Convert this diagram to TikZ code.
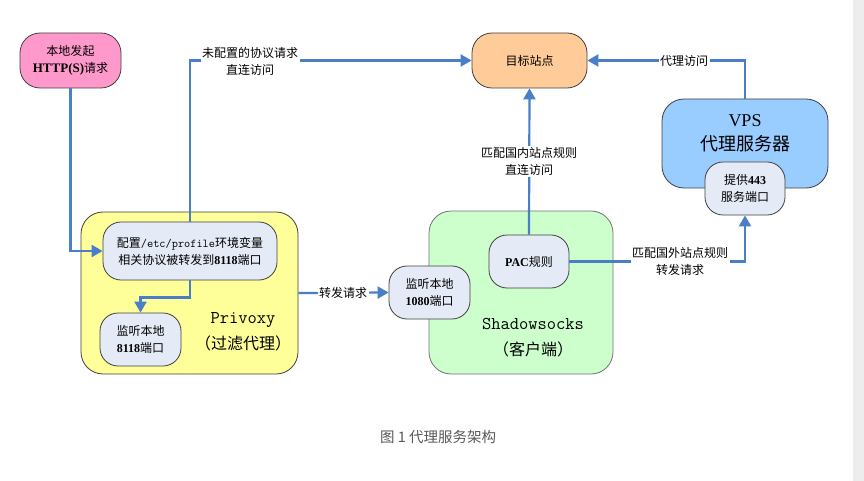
\documentclass[tikz,border=0pt]{standalone}
\usepackage{fontspec}
\setmainfont{Noto Sans CJK SC}
\newfontfamily\lser{Liberation Serif}
\usetikzlibrary{arrows.meta}
\newcommand\bnum[1]{{\lser\bfseries #1}}
\definecolor{arrblue}{HTML}{4A7EC6}
\definecolor{pinkf}{HTML}{FF99CC}
\definecolor{orangef}{HTML}{FFCC99}
\definecolor{yellowf}{HTML}{FFFF99}
\definecolor{greenf}{HTML}{CCFFCC}
\definecolor{bluef}{HTML}{99CCFF}
\definecolor{innerf}{HTML}{E5EBF6}
\definecolor{edgec}{HTML}{404040}
\begin{document}
\begin{tikzpicture}[x=1pt,y=-1pt,
  box/.style={draw=edgec, line width=0.8pt, align=center, inner sep=0pt,
    font=\fontsize{12}{17}\selectfont},
  inbox/.style={box, fill=innerf, rounded corners=18pt},
  arr/.style={draw=arrblue, line width=2.2pt, -{Triangle[length=11pt,width=12pt]}},
  lbl/.style={fill=white, align=center, inner sep=1.5pt, font=\fontsize{12}{17}\selectfont},
  big/.style={align=center, font=\fontsize{16}{26}\selectfont}]
\useasboundingbox (0,0) rectangle (864,481);
\fill[white] (0,0) rectangle (864,481);
\fill[black!7] (853,0) rectangle (864,481);

% containers
\node[box, fill=yellowf, rounded corners=22pt, minimum width=217pt, minimum height=162pt] (priv) at (189.5,293) {};
\node[box, fill=greenf, draw=black!55, rounded corners=22pt, minimum width=184pt, minimum height=163pt] (ss) at (521,292.5) {};
\node[box, fill=bluef, rounded corners=22pt, minimum width=166pt, minimum height=89pt] (vps) at (745,143.5) {};

% boxes
\node[box, fill=pinkf, rounded corners=20pt, minimum width=101pt, minimum height=55pt] (src) at (70.5,60.5) {本地发起\\{\fontsize{13}{17}\selectfont\bnum{HTTP(S)}}请求};
\node[box, fill=orangef, rounded corners=20pt, minimum width=115pt, minimum height=55pt] (tgt) at (529.5,60.5) {目标站点};
\node[inbox, minimum width=174pt, minimum height=58pt] (cfg) at (190,251) {配置{\ttfamily\fontsize{12}{17}\selectfont /etc/profile}环境变量\\相关协议被转发到\bnum{8118}端口};
\node[inbox, minimum width=81pt, minimum height=53pt] (l8118) at (140.5,339.5) {监听本地\\\bnum{8118}端口};
\node[inbox, minimum width=80pt, minimum height=53pt] (pac) at (529,261.5) {\bnum{PAC}规则};
\node[inbox, minimum width=81pt, minimum height=53pt] (l1080) at (429.5,292.5) {监听本地\\\bnum{1080}端口};
\node[inbox, minimum width=80pt, minimum height=53pt] (p443) at (745,188.5) {提供\bnum{443}\\服务端口};

% container titles
\node[big] (privt) at (243,332) {{\ttfamily\fontsize{18}{26}\selectfont Privoxy}\\（过滤代理）};
\node[big] (sst) at (533,338) {{\ttfamily\fontsize{18}{26}\selectfont Shadowsocks}\\（客户端）};
\node[align=center, font=\fontsize{18}{24}\selectfont] (vpst) at (745,133) {{\lser VPS}\\代理服务器};

% connectors
\draw[arr] (src.south) |- (cfg.west);
\draw[arr] (cfg.south) -- ++(0,17) -| (l8118.north);
\draw[arr] (cfg.north) |- (tgt.west);
\node[lbl] (lb1) at (250,61) {未配置的协议请求\\直连访问};
\draw[arr] (priv.east) -- (l1080.west);
\node[lbl] (lb2) at (343,293) {转发请求};
\draw[arr] (pac.north) -- (tgt.south);
\node[lbl] (lb3) at (529,161.5) {匹配国内站点规则\\直连访问};
\draw[arr] (pac.east) -| (p443.south);
\node[lbl] (lb4) at (680,261.5) {匹配国外站点规则\\转发请求};
\draw[arr] (vps.north) |- (tgt.east);
\node[lbl] (lb5) at (684,61) {代理访问};

% caption
\node[anchor=west, text=black!65, font=\fontsize{14.5}{17}\selectfont, inner sep=0pt] (cap) at (380,437) {图 1 代理服务架构};
\end{tikzpicture}
\end{document}
